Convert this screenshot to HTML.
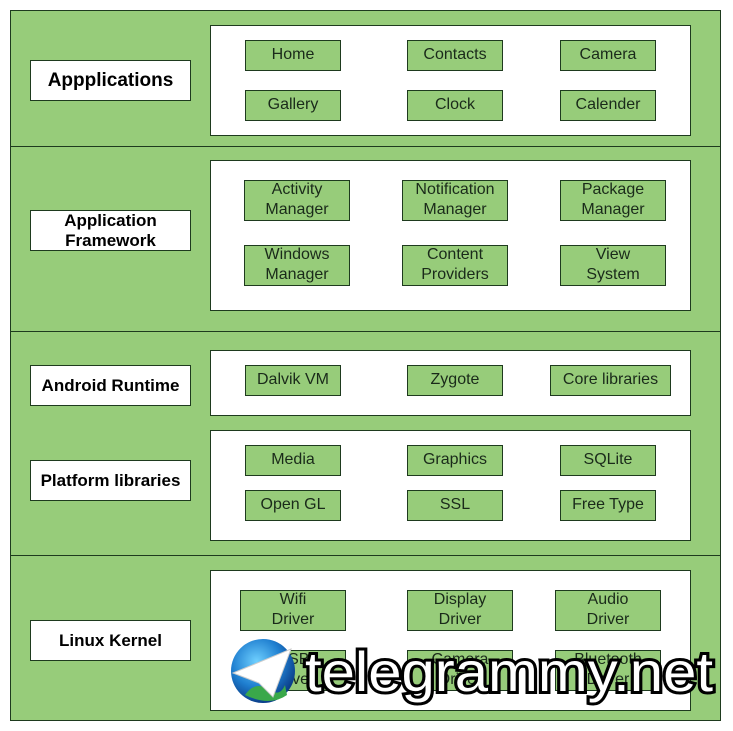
<!DOCTYPE html>
<html><head><style>
body{margin:0;width:733px;height:731px;background:#fff;position:relative;overflow:hidden;font-family:"Liberation Sans",Arial,sans-serif}
.a{position:absolute;box-sizing:border-box}
.g{background:#97cc7a;border:1px solid #1e3a1e}
.w{background:#fff;border:1px solid #1e3a1e}
.b{background:#97cc7a;border:1px solid #1e3a1e;display:flex;align-items:center;justify-content:center;text-align:center;font-size:16px;color:#1a2a1a;line-height:20px;padding-bottom:2px}
.l{background:#fff;border:1px solid #1e3a1e;display:flex;align-items:center;justify-content:center;text-align:center;font-size:17px;font-weight:bold;color:#000;line-height:20px}
.h{position:absolute;left:10px;width:711px;height:0;border-top:1px solid #1e3a1e}
</style></head><body>
<div class="a g" style="left:10px;top:10px;width:711px;height:711px"></div>
<div class="h" style="top:146px"></div>
<div class="h" style="top:331px"></div>
<div class="h" style="top:555px"></div>

<div class="a w" style="left:210px;top:25px;width:481px;height:111px"></div>
<div class="a w" style="left:210px;top:160px;width:481px;height:151px"></div>
<div class="a w" style="left:210px;top:350px;width:481px;height:66px"></div>
<div class="a w" style="left:210px;top:430px;width:481px;height:111px"></div>
<div class="a w" style="left:210px;top:570px;width:481px;height:141px"></div>

<div class="a l" style="left:30px;top:60px;width:161px;height:41px;font-size:19px">Appplications</div>
<div class="a l" style="left:30px;top:210px;width:161px;height:41px">Application<br>Framework</div>
<div class="a l" style="left:30px;top:365px;width:161px;height:41px">Android Runtime</div>
<div class="a l" style="left:30px;top:460px;width:161px;height:41px">Platform libraries</div>
<div class="a l" style="left:30px;top:620px;width:161px;height:41px">Linux Kernel</div>

<div class="a b" style="left:245px;top:40px;width:96px;height:31px">Home</div>
<div class="a b" style="left:407px;top:40px;width:96px;height:31px">Contacts</div>
<div class="a b" style="left:560px;top:40px;width:96px;height:31px">Camera</div>
<div class="a b" style="left:245px;top:90px;width:96px;height:31px">Gallery</div>
<div class="a b" style="left:407px;top:90px;width:96px;height:31px">Clock</div>
<div class="a b" style="left:560px;top:90px;width:96px;height:31px">Calender</div>

<div class="a b" style="left:244px;top:180px;width:106px;height:41px">Activity<br>Manager</div>
<div class="a b" style="left:402px;top:180px;width:106px;height:41px">Notification<br>Manager</div>
<div class="a b" style="left:560px;top:180px;width:106px;height:41px">Package<br>Manager</div>
<div class="a b" style="left:244px;top:245px;width:106px;height:41px">Windows<br>Manager</div>
<div class="a b" style="left:402px;top:245px;width:106px;height:41px">Content<br>Providers</div>
<div class="a b" style="left:560px;top:245px;width:106px;height:41px">View<br>System</div>

<div class="a b" style="left:245px;top:365px;width:96px;height:31px">Dalvik VM</div>
<div class="a b" style="left:407px;top:365px;width:96px;height:31px">Zygote</div>
<div class="a b" style="left:550px;top:365px;width:121px;height:31px">Core libraries</div>

<div class="a b" style="left:245px;top:445px;width:96px;height:31px">Media</div>
<div class="a b" style="left:407px;top:445px;width:96px;height:31px">Graphics</div>
<div class="a b" style="left:560px;top:445px;width:96px;height:31px">SQLite</div>
<div class="a b" style="left:245px;top:490px;width:96px;height:31px">Open GL</div>
<div class="a b" style="left:407px;top:490px;width:96px;height:31px">SSL</div>
<div class="a b" style="left:560px;top:490px;width:96px;height:31px">Free Type</div>

<div class="a b" style="left:240px;top:590px;width:106px;height:41px">Wifi<br>Driver</div>
<div class="a b" style="left:407px;top:590px;width:106px;height:41px">Display<br>Driver</div>
<div class="a b" style="left:555px;top:590px;width:106px;height:41px">Audio<br>Driver</div>
<div class="a b" style="left:240px;top:650px;width:106px;height:41px">USB<br>Driver</div>
<div class="a b" style="left:407px;top:650px;width:106px;height:41px">Camera<br>Driver</div>
<div class="a b" style="left:555px;top:650px;width:106px;height:41px">Bluetooth<br>Driver</div>

<svg class="a" style="left:225px;top:635px" width="500" height="75">
<defs><radialGradient id="gl" cx="40%" cy="35%" r="65%"><stop offset="0" stop-color="#6fd0ff"/><stop offset="0.6" stop-color="#1f7fd0"/><stop offset="1" stop-color="#0b3f8a"/></radialGradient></defs>
<circle cx="38" cy="36" r="32" fill="url(#gl)"/>
<path d="M20 60 Q30 45 45 55 Q55 62 60 50 L62 60 Q45 72 20 60Z" fill="#3aa84a"/>
<polygon points="8,38 66,14 48,62 34,48" fill="#fff" stroke="#ccc"/>
<text x="80" y="56" textLength="408" lengthAdjust="spacingAndGlyphs" font-family="Liberation Sans,sans-serif" font-size="56" fill="#fff" stroke="#000" stroke-width="6" paint-order="stroke">telegrammy.net</text>
</svg>
</body></html>
